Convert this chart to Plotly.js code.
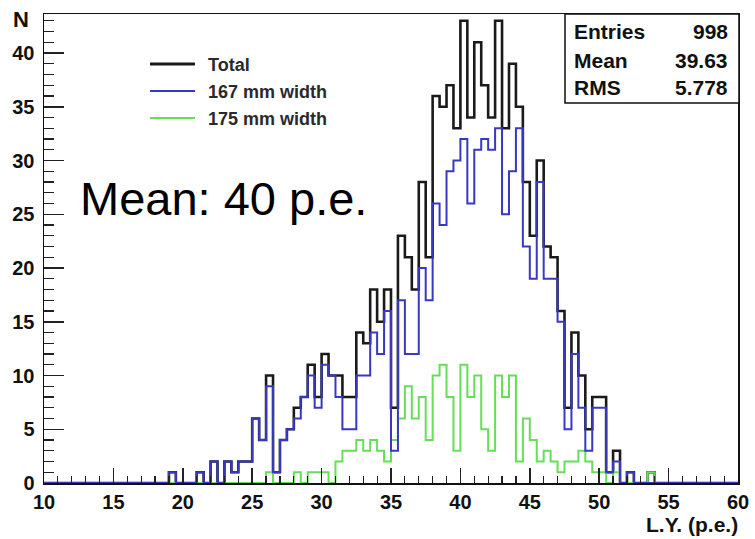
<!DOCTYPE html>
<html><head><meta charset="utf-8">
<script src="https://cdn.plot.ly/plotly-3.0.1.min.js"></script>
<style>html,body{margin:0;padding:0;background:#fff;} #chart{width:755px;height:539px;}</style>
</head><body><div id="chart"></div>
<script>
// Histogram binning (L.Y. in p.e.)
const binLow = 10, binWidth = 0.5;
// counts per 0.5 p.e. bin, from 10 to 60 (100 bins)
const totalCounts = [
 0,0,0,0,0,0,0,0,0,0, 0,0,0,0,0,0,0,0,1,0,
 0,0,1,0,2,0,2,1,2,2, 6,4,10,1,4,5,7,8,11,8,
 12,10,10,8,8,14,13,18,15,18, 7,23,21,18,28,21,36,35,37,33,
 43,34,41,37,34,43,33,39,35,28, 23,30,22,21,16,7,14,10,5,8,
 8,1,3,0,1,0,0,1,0,0, 0,0,0,0,0,0,0,0,0,0
];
const width167Counts = [
 0,0,0,0,0,0,0,0,0,0, 0,0,0,0,0,0,0,0,1,0,
 0,0,1,0,2,0,2,1,2,2, 6,4,9,1,4,5,6,8,10,7,
 11,10,8,5,5,10,10,14,12,16, 3,17,12,12,20,17,26,24,29,30,
 32,26,31,32,31,33,25,29,33,22, 19,28,19,19,15,5,12,7,3,7,
 7,1,2,0,1,0,0,0,0,0, 0,0,0,0,0,0,0,0,0,0
];
const width175Counts = [
 0,0,0,0,0,0,0,0,0,0, 0,0,0,0,0,0,0,0,0,0,
 0,0,0,0,0,0,0,0,0,0, 0,0,1,0,0,0,1,0,1,1,
 1,0,2,3,3,4,3,4,3,2, 4,6,9,6,8,4,10,11,8,3,
 11,8,10,5,3,10,8,10,2,6, 4,2,3,2,1,2,2,3,2,1,
 1,0,1,0,0,0,0,1,0,0, 0,0,0,0,0,0,0,0,0,0
];
const legendNames = ['Total', '167 mm width', '175 mm width'];
const statsLabels = ['Entries', 'Mean', 'RMS'];
const statsValues = ['998', '39.63', '5.778'];
const yTickVals = [0, 5, 10, 15, 20, 25, 30, 35, 40];
const xTickVals = [10, 15, 20, 25, 30, 35, 40, 45, 50, 55, 60];

function stepXY(counts) {
  const x = [], y = [];
  counts.forEach((c, i) => { x.push(binLow + i * binWidth); y.push(c); });
  x.push(binLow + counts.length * binWidth);
  y.push(counts[counts.length - 1]);
  return {x, y};
}

const colors = ['#1a1a1a', '#3838c2', '#66de58'];
const widths = [2.6, 2, 2];
const series = [totalCounts, width167Counts, width175Counts];
// drawing order: Total, then 175 mm, then 167 mm on top
const order = [0, 2, 1];
const traces = order.map(i => {
  const xy = stepXY(series[i]);
  return {x: xy.x, y: xy.y, type: 'scatter', mode: 'lines', name: legendNames[i],
    line: {shape: 'hv', color: colors[i], width: widths[i]}, hoverinfo: 'skip', showlegend: false, cliponaxis: true};
});

const W = 755, H = 539;
const L = 44, R = 738, T = 14, B = 483;
const px = x => (x - L) / (R - L);
const py = y => (B - y) / (B - T);
const font = 'Liberation Sans, Arial, sans-serif';

const shapes = [
  {type: 'rect', xref: 'paper', yref: 'paper', x0: px(565), x1: px(739), y0: py(103), y1: py(14),
   line: {color: '#111', width: 1.5}, fillcolor: '#fff', layer: 'above'}
];
const annotations = [];
// legend samples
const legY = [64, 91, 118];
legendNames.forEach((n, i) => {
  shapes.push({type: 'line', xref: 'paper', yref: 'paper', x0: px(150), x1: px(195), y0: py(legY[i]), y1: py(legY[i]),
    line: {color: colors[i], width: i === 0 ? 3 : 2}});
  annotations.push({xref: 'paper', yref: 'paper', x: px(206), y: py(legY[i] + 1), xanchor: 'left', yanchor: 'middle',
    text: n, showarrow: false, font: {family: font, size: 18, color: '#2a2a2a', weight: 'bold'}});
});
// stats box
const statY = [32, 60, 88];
statsLabels.forEach((s, i) => {
  annotations.push({xref: 'paper', yref: 'paper', x: px(572), y: py(statY[i]), xanchor: 'left', yanchor: 'middle',
    text: s, showarrow: false, font: {family: font, size: 21, color: '#111', weight: 'bold'}});
  annotations.push({xref: 'paper', yref: 'paper', x: px(730), y: py(statY[i]), xanchor: 'right', yanchor: 'middle',
    text: statsValues[i], showarrow: false, font: {family: font, size: 21, color: '#111', weight: 'bold'}});
});
// axis titles
annotations.push({xref: 'paper', yref: 'paper', x: px(11), y: py(20), xanchor: 'left', yanchor: 'middle',
  text: 'N', showarrow: false, font: {family: font, size: 22, color: '#111', weight: 'bold'}});
annotations.push({xref: 'paper', yref: 'paper', x: px(740), y: py(524), xanchor: 'right', yanchor: 'middle',
  text: 'L.Y. (p.e.)', showarrow: false, font: {family: font, size: 21, color: '#111', weight: 'bold'}});
// big text
annotations.push({xref: 'paper', yref: 'paper', x: px(78), y: py(199), xanchor: 'left', yanchor: 'middle',
  text: 'Mean: 40 p.e.', showarrow: false, font: {family: font, size: 47, color: '#000'}});

const axisCommon = {showgrid: false, zeroline: false, showline: true, linecolor: '#111', linewidth: 1.5,
  mirror: true, ticks: 'inside', tickcolor: '#222', tickwidth: 1.5,
  tickfont: {family: font, size: 20, color: '#111', weight: 'bold'}};

const layout = {
  width: W, height: H,
  margin: {l: L, r: W - R, t: T, b: H - B, pad: 0},
  paper_bgcolor: '#fff', plot_bgcolor: '#fff',
  showlegend: false,
  xaxis: Object.assign({}, axisCommon, {range: [10, 60], tickvals: xTickVals, ticklen: 15,
    minor: {dtick: 1, tick0: 10, ticks: 'inside', ticklen: 7, tickcolor: '#222', tickwidth: 1.2}, ticklabelstandoff: 0}),
  yaxis: Object.assign({}, axisCommon, {range: [0, (B - T) / 10.75], tickvals: yTickVals, ticklen: 20,
    minor: {dtick: 1, tick0: 0, ticks: 'inside', ticklen: 10, tickcolor: '#222', tickwidth: 1.2}, ticklabelstandoff: 4}),
  shapes: shapes,
  annotations: annotations
};

Plotly.newPlot('chart', traces, layout, {staticPlot: true, displayModeBar: false});
</script></body></html>
